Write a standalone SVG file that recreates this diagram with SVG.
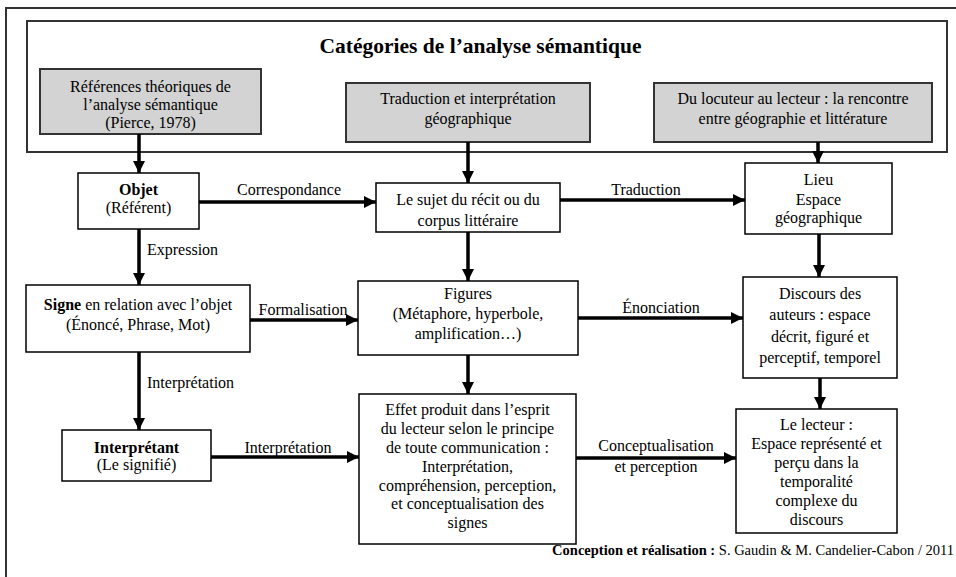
<svg xmlns="http://www.w3.org/2000/svg" width="956" height="577" viewBox="0 0 956 577">
<style>
text{font-family:"Liberation Serif","Times New Roman",serif;font-size:16px;fill:#000;text-anchor:middle}
.b{font-weight:bold}
.st{text-anchor:start}
.box{fill:#fff;stroke:#000;stroke-width:1.5}
.gray{fill:#d3d3d3;stroke:#333;stroke-width:2}
.frame{fill:none;stroke:#333;stroke-width:2}
.arr{stroke:#000;stroke-width:3.5;fill:none;marker-end:url(#ah)}
</style>
<defs>
<marker id="ah" markerUnits="userSpaceOnUse" viewBox="0 0 12 12" refX="12" refY="6" markerWidth="12" markerHeight="12" orient="auto">
<path d="M0,0 L12,6 L0,12 z" fill="#000"/>
</marker>
</defs>
<rect width="956" height="577" fill="#fff"/>
<path class="frame" d="M6,577 V8 H956"/>
<g id="header">
<rect class="frame" x="27" y="21" width="920" height="131"/>
<text x="480.5" y="53" class="b" style="font-size:21.5px">Catégories de l’analyse sémantique</text>
</g>
<g id="g1">
<rect class="gray" x="40" y="69" width="221" height="65"/>
<text x="150.5" y="92">Références théoriques de</text>
<text x="150.5" y="110">l’analyse sémantique</text>
<text x="150.5" y="128">(Pierce, 1978)</text>
</g>
<g id="g2">
<rect class="gray" x="346" y="83" width="244" height="59"/>
<text x="468" y="104">Traduction et interprétation</text>
<text x="468" y="124">géographique</text>
</g>
<g id="g3">
<rect class="gray" x="654" y="83" width="278" height="59"/>
<text x="793" y="104">Du locuteur au lecteur : la rencontre</text>
<text x="793" y="124">entre géographie et littérature</text>
</g>
<g id="objet">
<rect class="box" x="78" y="173" width="121" height="56"/>
<text x="138.5" y="195" class="b">Objet</text>
<text x="138.5" y="213">(Référent)</text>
</g>
<g id="sujet">
<rect class="box" x="376" y="183" width="184" height="49"/>
<text x="468" y="205">Le sujet du récit ou du</text>
<text x="468" y="226">corpus littéraire</text>
</g>
<g id="lieu">
<rect class="box" x="745" y="163" width="147" height="71"/>
<text x="818.5" y="185">Lieu</text>
<text x="818.5" y="205">Espace</text>
<text x="818.5" y="223">géographique</text>
</g>
<g id="signe">
<rect class="box" x="26" y="285" width="224" height="67"/>
<text x="138" y="310"><tspan class="b">Signe</tspan> en relation avec l’objet</text>
<text x="138" y="330">(Énoncé, Phrase, Mot)</text>
</g>
<g id="figures">
<rect class="box" x="358" y="281" width="220" height="74"/>
<text x="468" y="299">Figures</text>
<text x="468" y="319">(Métaphore, hyperbole,</text>
<text x="468" y="339">amplification…)</text>
</g>
<g id="discours">
<rect class="box" x="743" y="277" width="154" height="101"/>
<text x="820" y="299">Discours des</text>
<text x="820" y="320">auteurs : espace</text>
<text x="820" y="342">décrit, figuré et</text>
<text x="820" y="363">perceptif, temporel</text>
</g>
<g id="interpretant">
<rect class="box" x="62" y="430" width="149" height="51"/>
<text x="136.5" y="453" class="b">Interprétant</text>
<text x="136.5" y="470">(Le signifié)</text>
</g>
<g id="effet">
<rect class="box" x="359" y="394" width="217" height="150"/>
<text x="467.5" y="415">Effet produit dans l’esprit</text>
<text x="467.5" y="434">du lecteur selon le principe</text>
<text x="467.5" y="453">de toute communication :</text>
<text x="467.5" y="472">Interprétation,</text>
<text x="467.5" y="491">compréhension, perception,</text>
<text x="467.5" y="509">et conceptualisation des</text>
<text x="467.5" y="528">signes</text>
</g>
<g id="lecteur">
<rect class="box" x="736" y="409" width="161" height="124"/>
<text x="816.5" y="430">Le lecteur :</text>
<text x="816.5" y="449">Espace représenté et</text>
<text x="816.5" y="468">perçu dans la</text>
<text x="816.5" y="487">temporalité</text>
<text x="816.5" y="506">complexe du</text>
<text x="816.5" y="525">discours</text>
</g>
<g id="connectors">
<line class="arr" x1="139" y1="134" x2="139" y2="173"/>
<line class="arr" x1="468" y1="142" x2="468" y2="183"/>
<line class="arr" x1="818" y1="142" x2="818" y2="163"/>
<line class="arr" x1="199" y1="202" x2="376" y2="202"/>
<text x="289" y="195">Correspondance</text>
<line class="arr" x1="560" y1="200" x2="745" y2="200"/>
<text x="646" y="195">Traduction</text>
<line class="arr" x1="139" y1="229" x2="139" y2="285"/>
<text x="147" y="255" class="st">Expression</text>
<line class="arr" x1="468" y1="232" x2="468" y2="281"/>
<line class="arr" x1="819" y1="234" x2="819" y2="277"/>
<line class="arr" x1="250" y1="320" x2="358" y2="320"/>
<text x="303" y="315">Formalisation</text>
<line class="arr" x1="578" y1="318" x2="743" y2="318"/>
<text x="661" y="313">Énonciation</text>
<line class="arr" x1="139" y1="352" x2="139" y2="430"/>
<text x="147" y="388" class="st">Interprétation</text>
<line class="arr" x1="468" y1="355" x2="468" y2="394"/>
<line class="arr" x1="820" y1="378" x2="820" y2="409"/>
<line class="arr" x1="211" y1="457" x2="359" y2="457"/>
<text x="288" y="453">Interprétation</text>
<line class="arr" x1="576" y1="458" x2="736" y2="458"/>
<text x="656" y="451">Conceptualisation</text>
<text x="656" y="472">et perception</text>
</g>
<g id="footer">
<text x="954" y="555" style="font-size:14.5px;text-anchor:end"><tspan class="b">Conception et réalisation :</tspan> S. Gaudin &amp; M. Candelier-Cabon / 2011</text>
</g>
</svg>
